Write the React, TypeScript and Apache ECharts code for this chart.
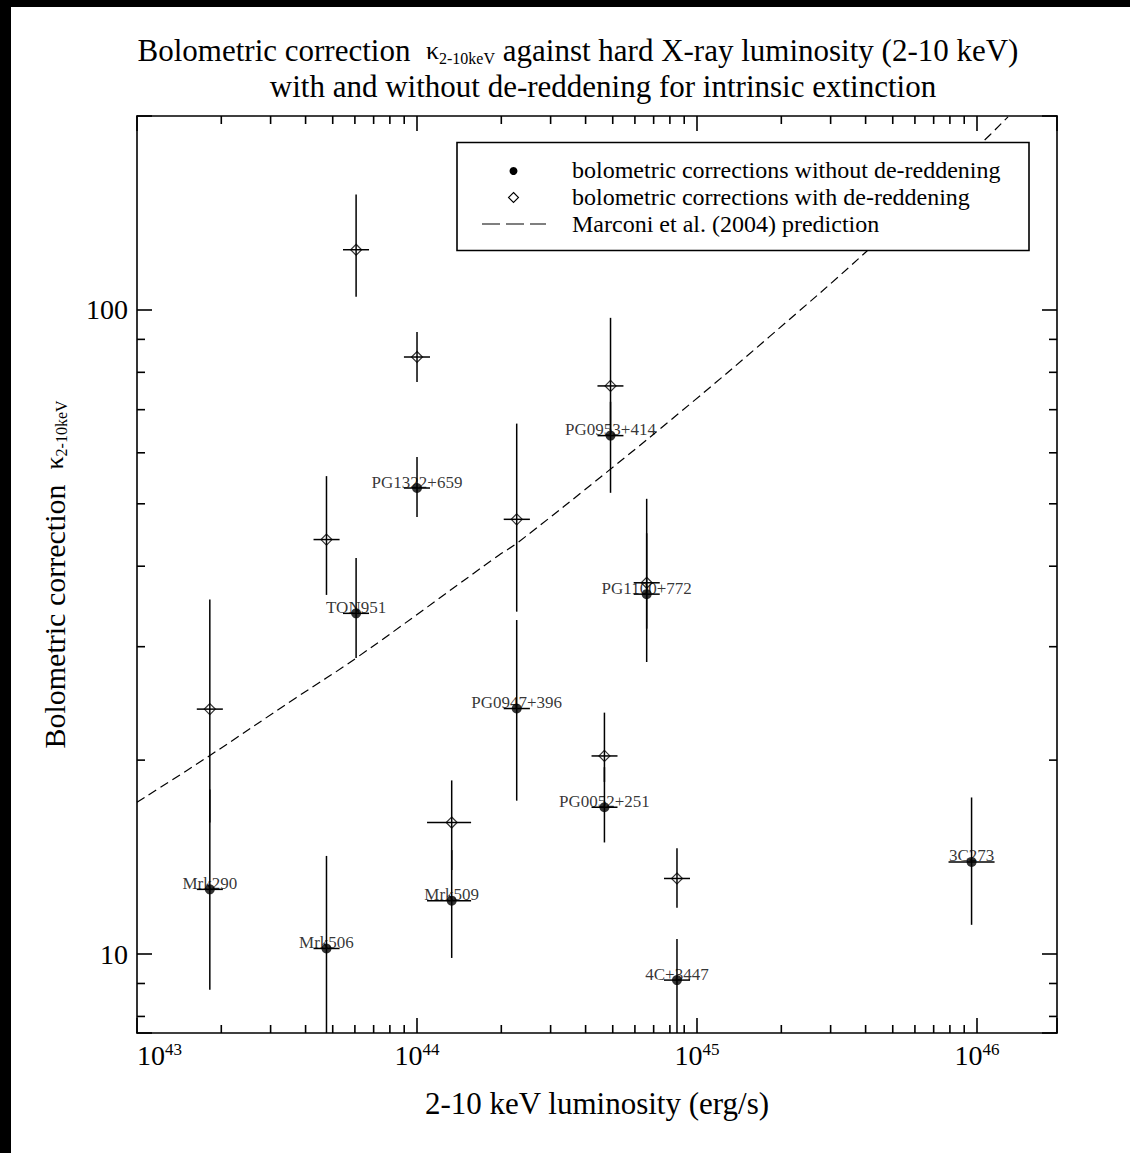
import React, { useEffect, useRef } from 'react';
import * as echarts from 'echarts';

const FONT = '"Liberation Serif", "Times New Roman", Times, serif';

// ---- data ----
const NAMES = ['Mrk290', 'Mrk506', 'TON951', 'PG1322+659', 'Mrk509', 'PG0947+396', 'PG0953+414', 'PG0052+251', 'PG1100+772', '4C+3447', '3C273'];
const LUM = [1.82e43, 4.75e43, 6.06e43, 1.0e44, 1.33e44, 2.27e44, 4.91e44, 4.67e44, 6.61e44, 8.48e44, 9.56e45];
const LUM_LO = [1.635e43, 4.27e43, 5.44e43, 8.98e43, 1.086e44, 2.04e44, 4.41e44, 4.2e44, 5.94e44, 7.62e44, 7.91e45];
const LUM_HI = [2.026e43, 5.29e43, 6.74e43, 1.113e44, 1.56e44, 2.53e44, 5.46e44, 5.2e44, 7.36e44, 9.44e44, 1.155e46];

const K_NODR = [12.6, 10.2, 33.8, 52.9, 12.1, 24.05, 63.8, 16.9, 36.2, 9.11, 13.9];
const K_NODR_LO = [8.8, 7.0, 28.8, 47.7, 9.86, 17.3, 52.0, 14.9, 28.4, 7.0, 11.1];
const K_NODR_HI = [18.0, 14.2, 41.2, 59.1, 14.5, 33.0, 72.0, 19.5, 45.0, 10.55, 17.5];

const K_DR = [24.0, 44.0, 124, 84.5, 16.0, 47.3, 76.2, 20.3, 37.7, 13.1, null];
const K_DR_LO = [16.0, 36.1, 104.8, 77.3, 13.5, 34.0, 65.0, 18.5, 32.0, 11.8, null];
const K_DR_HI = [35.5, 55.2, 151, 92.4, 18.6, 66.6, 97.2, 23.7, 50.9, 14.6, null];

// Marconi et al. (2004) prediction
const CURVE_L = [1e43, 1.81e43, 3.7e43, 6.06e43, 1.96e44, 2.27e44, 4.91e44, 9.84e44, 1.81e45, 4.01e45, 1.03e46, 1.29e46];
const CURVE_K = [17.2, 20.3, 25.0, 28.8, 41.6, 43.4, 56.6, 72.5, 90.8, 123, 181, 199.4];

// axes
const X_MIN = 1e43;
const X_MAX = 1.93e46;
const Y_MIN = 7.54;
const Y_MAX = 200;
const X_DECADES = [1e43, 1e44, 1e45, 1e46];
const Y_DECADES = [1, 10, 100];
const MINOR_MULTS = [2, 3, 4, 5, 6, 7, 8, 9];

const LEGEND_LABELS = [
  'bolometric corrections without de-reddening',
  'bolometric corrections with de-reddening',
  'Marconi et al. (2004) prediction',
];

const isPow10 = (v: number) => {
  const e = Math.log10(v);
  return Math.abs(e - Math.round(e)) < 1e-6;
};

function buildOption(): any {
  const xMinor: number[][] = [];
  X_DECADES.forEach((d) => MINOR_MULTS.forEach((m) => {
    const v = m * d;
    if (v > X_MIN && v < X_MAX) xMinor.push([v, Y_MIN]);
  }));
  const yMinor: number[][] = [];
  Y_DECADES.forEach((d) => MINOR_MULTS.forEach((m) => {
    const v = m * d;
    if (v > Y_MIN && v < Y_MAX) yMinor.push([X_MIN, v]);
  }));

  const errNoDR = LUM.map((x, i) => [x, K_NODR[i], LUM_LO[i], LUM_HI[i], K_NODR_LO[i], K_NODR_HI[i]]);
  const errDR: number[][] = [];
  LUM.forEach((x, i) => {
    if (K_DR[i] != null) errDR.push([x, K_DR[i] as number, LUM_LO[i], LUM_HI[i], K_DR_LO[i] as number, K_DR_HI[i] as number]);
  });

  const lineStyle = { stroke: '#000', lineWidth: 1.5 };
  const errRender = (params: any, api: any) => {
    const x = api.value(0);
    const y = api.value(1);
    const pl = api.coord([api.value(2), y]);
    const pr = api.coord([api.value(3), y]);
    const pb = api.coord([x, api.value(4)]);
    const pt = api.coord([x, api.value(5)]);
    return {
      type: 'group',
      children: [
        { type: 'line', shape: { x1: pt[0], y1: pt[1], x2: pb[0], y2: pb[1] }, style: lineStyle },
        { type: 'line', shape: { x1: pl[0], y1: pl[1], x2: pr[0], y2: pr[1] }, style: lineStyle },
      ],
    };
  };

  const tickStyle = { stroke: '#000', lineWidth: 1.6 };
  const xMinorRender = (params: any, api: any) => {
    const cs = params.coordSys;
    const px = api.coord([api.value(0), Y_MIN])[0];
    const top = cs.y;
    const bot = cs.y + cs.height;
    return {
      type: 'group',
      children: [
        { type: 'line', shape: { x1: px, y1: bot, x2: px, y2: bot - 8 }, style: tickStyle },
        { type: 'line', shape: { x1: px, y1: top, x2: px, y2: top + 8 }, style: tickStyle },
      ],
    };
  };
  const yMinorRender = (params: any, api: any) => {
    const cs = params.coordSys;
    const py = api.coord([X_MIN, api.value(1)])[1];
    const l = cs.x;
    const r = cs.x + cs.width;
    return {
      type: 'group',
      children: [
        { type: 'line', shape: { x1: l, y1: py, x2: l + 8, y2: py }, style: tickStyle },
        { type: 'line', shape: { x1: r, y1: py, x2: r - 8, y2: py }, style: tickStyle },
      ],
    };
  };

  const axisLine = { show: true, onZero: false, lineStyle: { color: '#000', width: 1.6 } };
  const axisTick = { show: true, inside: true, length: 15, lineStyle: { color: '#000', width: 1.6 } };

  const xLabelFmt = (v: number) => {
    if (!isPow10(v)) return '';
    return '{b|10}{s|' + Math.round(Math.log10(v)) + '}';
  };
  const yLabelFmt = (v: number) => (isPow10(v) ? String(Math.round(v)) : '');

  const legendX = 457;
  const legendY = 142.5;
  const rowY = [170, 197, 224];

  return {
    animation: false,
    backgroundColor: '#fff',
    title: [
      {
        text: '{t|Bolometric correction  }{k|κ}{s|2-10keV}{t| against hard X-ray luminosity (2-10 keV)}',
        left: 578,
        top: 35,
        textAlign: 'center',
        padding: 0,
        textStyle: {
          fontFamily: FONT,
          fontSize: 31,
          fontWeight: 'normal',
          color: '#000',
          rich: {
            t: { fontFamily: FONT, fontSize: 31, color: '#000' },
            k: { fontFamily: FONT, fontSize: 26, color: '#000' },
            s: { fontFamily: FONT, fontSize: 16, color: '#000', verticalAlign: 'bottom' },
          },
        },
      },
      {
        text: 'with and without de-reddening for intrinsic extinction',
        left: 603,
        top: 71,
        textAlign: 'center',
        padding: 0,
        textStyle: { fontFamily: FONT, fontSize: 31, fontWeight: 'normal', color: '#000' },
      },
    ],
    grid: { left: 137, top: 116, right: 73, bottom: 120, containLabel: false },
    xAxis: [
      {
        type: 'log',
        logBase: 10,
        min: X_MIN,
        max: X_MAX,
        position: 'bottom',
        axisLine,
        axisTick,
        splitLine: { show: false },
        axisLabel: {
          formatter: xLabelFmt,
          margin: 8,
          alignMinLabel: 'left',
          showMinLabel: true,
          color: '#000',
          rich: {
            b: { fontFamily: FONT, fontSize: 28, color: '#000' },
            s: { fontFamily: FONT, fontSize: 17, color: '#000', verticalAlign: 'top' },
          },
        },
        name: '2-10 keV luminosity (erg/s)',
        nameLocation: 'middle',
        nameGap: 55,
        nameTextStyle: { fontFamily: FONT, fontSize: 31, color: '#000' },
      },
      {
        type: 'log',
        logBase: 10,
        min: X_MIN,
        max: X_MAX,
        position: 'top',
        axisLine,
        axisTick,
        splitLine: { show: false },
        axisLabel: { show: false },
      },
    ],
    yAxis: [
      {
        type: 'log',
        logBase: 10,
        min: Y_MIN,
        max: Y_MAX,
        position: 'left',
        axisLine,
        axisTick,
        splitLine: { show: false },
        axisLabel: { formatter: yLabelFmt, margin: 9, fontFamily: FONT, fontSize: 28, color: '#000' },
        name: 'Bolometric correction  {k|κ}{s|2-10keV}',
        nameLocation: 'middle',
        nameRotate: 90,
        nameGap: 68,
        nameTextStyle: {
          fontFamily: FONT,
          fontSize: 30,
          color: '#000',
          rich: {
            k: { fontFamily: FONT, fontSize: 26, color: '#000' },
            s: { fontFamily: FONT, fontSize: 16, color: '#000', verticalAlign: 'bottom' },
          },
        },
      },
      {
        type: 'log',
        logBase: 10,
        min: Y_MIN,
        max: Y_MAX,
        position: 'right',
        axisLine,
        axisTick,
        splitLine: { show: false },
        axisLabel: { show: false },
      },
    ],
    series: [
      {
        type: 'custom',
        name: 'xMinorTicks',
        silent: true,
        renderItem: xMinorRender,
        data: xMinor,
        encode: { x: 0, y: 1 },
        z: 5,
      },
      {
        type: 'custom',
        name: 'yMinorTicks',
        silent: true,
        renderItem: yMinorRender,
        data: yMinor,
        encode: { x: 0, y: 1 },
        z: 5,
      },
      {
        type: 'line',
        name: 'Marconi et al. (2004) prediction',
        data: CURVE_L.map((x, i) => [x, CURVE_K[i]]),
        smooth: 0.4,
        showSymbol: false,
        symbol: 'none',
        clip: true,
        lineStyle: { color: '#000', width: 1.2, type: [9, 5] },
        z: 2,
      },
      {
        type: 'custom',
        name: 'errDR',
        silent: true,
        clip: true,
        renderItem: errRender,
        data: errDR,
        encode: { x: 0, y: 1 },
        z: 3,
      },
      {
        type: 'custom',
        name: 'errNoDR',
        silent: true,
        clip: true,
        renderItem: errRender,
        data: errNoDR,
        encode: { x: 0, y: 1 },
        z: 3,
      },
      {
        type: 'scatter',
        name: LEGEND_LABELS[1],
        symbol: 'diamond',
        symbolSize: 11,
        itemStyle: { color: 'rgba(0,0,0,0)', borderColor: '#000', borderWidth: 1.2 },
        data: LUM.map((x, i) => (K_DR[i] == null ? null : [x, K_DR[i]])).filter((d) => d != null),
        z: 4,
      },
      {
        type: 'scatter',
        name: LEGEND_LABELS[0],
        symbol: 'circle',
        symbolSize: 10,
        itemStyle: { color: '#000' },
        data: LUM.map((x, i) => ({ name: NAMES[i], value: [x, K_NODR[i]] })),
        label: {
          show: true,
          position: 'inside',
          offset: [0, -6],
          formatter: '{b}',
          fontFamily: FONT,
          fontSize: 17,
          color: '#000',
        },
        z: 4,
      },
    ],
    graphic: [
      {
        type: 'rect',
        z: 100,
        shape: { x: legendX, y: legendY, width: 572, height: 108 },
        style: { fill: '#fff', stroke: '#000', lineWidth: 1.6 },
      },
      { type: 'circle', z: 101, shape: { cx: 513.5, cy: 171, r: 4 }, style: { fill: '#000' } },
      {
        type: 'polygon',
        z: 101,
        shape: { points: [[513.5, 192.5], [518.5, 197.5], [513.5, 202.5], [508.5, 197.5]] },
        style: { fill: 'none', stroke: '#000', lineWidth: 1.1 },
      },
      {
        type: 'line',
        z: 101,
        shape: { x1: 482, y1: 224, x2: 546, y2: 224 },
        style: { stroke: '#000', lineWidth: 1.2, lineDash: [18, 6] },
      },
      ...LEGEND_LABELS.map((t, i) => ({
        type: 'text',
        z: 101,
        x: 572,
        y: rowY[i],
        style: { text: t, font: '24px ' + FONT, fill: '#000', textAlign: 'left', textVerticalAlign: 'middle' },
      })),
      { type: 'rect', z: 200, shape: { x: 0, y: 0, width: 1130, height: 7 }, style: { fill: '#000' } },
      { type: 'rect', z: 200, shape: { x: 0, y: 0, width: 11, height: 1153 }, style: { fill: '#000' } },
    ],
  };
}

export default function App() {
  const ref = useRef<HTMLDivElement>(null);
  useEffect(() => {
    if (!ref.current) return;
    const chart = echarts.init(ref.current, null, { renderer: 'svg' });
    chart.setOption(buildOption());
    return () => chart.dispose();
  }, []);
  return (
    <div style={{ position: 'absolute', left: 0, top: 0, width: 1130, height: 1153, background: '#fff' }}>
      <div ref={ref} style={{ width: 1130, height: 1153 }} />
    </div>
  );
}
